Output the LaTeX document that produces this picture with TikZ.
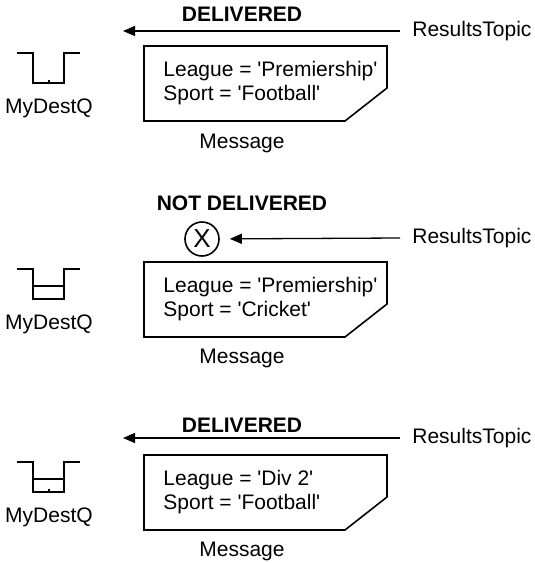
\documentclass[tikz,border=0pt]{standalone}
\usepackage{fontspec}
\setmainfont{Liberation Sans}
\usetikzlibrary{arrows.meta}

\begin{document}
\begin{tikzpicture}[x=0.5pt,y=-0.5pt,
  every node/.style={font=\fontsize{10.5}{12}\selectfont},
  status/.style={font=\fontsize{10.5}{12}\selectfont\bfseries},
  topic/.style={anchor=west,inner xsep=6pt,inner ysep=0pt},
  msgtext/.style={anchor=west,align=left,inner sep=0pt},
  feed/.style={line width=0.65pt,-{Triangle[length=6pt,width=5pt]}},
  outline/.style={line width=0.8pt,line join=miter}]
  \useasboundingbox (0,0) rectangle (535,563);

  % first message: delivered
  \node[status] (lbl1) at (242,14) {DELIVERED};
  \node[topic] (topic1) at (400,31) {ResultsTopic};
  \coordinate (end1) at (123,31);
  \draw[feed] (topic1.west) -- (end1);
  \draw[outline] (144,46) -- (387,46) -- (387,88) -- (345,121) -- (144,121) -- cycle;
  \node[msgtext] (msg1) at (163,83) {League = \textquotesingle Premiership\textquotesingle\\Sport = \textquotesingle Football\textquotesingle};
  \node (cap1) at (242,143) {Message};
  \draw[outline] (17,53) -- (33,53) -- (33,83) -- (64,83) -- (64,53) -- (80,53);
  \draw[outline] (49,83) -- (49,80);
  \node (q1) at (49,108) {MyDestQ};

  % second message: not delivered
  \node[status] (lbl2) at (242,203) {NOT DELIVERED};
  \node[topic] (topic2) at (400,238) {ResultsTopic};
  \node[circle,draw,line width=0.8pt,minimum size=17pt,inner sep=0pt,
    font=\fontsize{13}{13}\selectfont] (stop) at (202,239) {X};
  \draw[feed,shorten >=5pt] (topic2.west) -- (stop);
  \draw[outline] (144,262) -- (387,262) -- (387,304) -- (345,337) -- (144,337) -- cycle;
  \node[msgtext] (msg2) at (163,299.5) {League = \textquotesingle Premiership\textquotesingle\\Sport = \textquotesingle Cricket\textquotesingle};
  \node (cap2) at (242,358) {Message};
  \draw[outline] (17,269) -- (33,269) -- (33,299) -- (64,299) -- (64,269) -- (80,269);
  \draw[outline] (33,286) -- (64,286);
  \node (q2) at (49,324) {MyDestQ};

  % third message: delivered
  \node[status] (lbl3) at (242,425) {DELIVERED};
  \node[topic] (topic3) at (400,438) {ResultsTopic};
  \coordinate (end3) at (123,438);
  \draw[feed] (topic3.west) -- (end3);
  \draw[outline] (144,455) -- (387,455) -- (387,497) -- (345,530) -- (144,530) -- cycle;
  \node[msgtext] (msg3) at (163,492.5) {League = \textquotesingle Div 2\textquotesingle\\Sport = \textquotesingle Football\textquotesingle};
  \node (cap3) at (242,551) {Message};
  \draw[outline] (17,462) -- (33,462) -- (33,492) -- (64,492) -- (64,462) -- (80,462);
  \draw[outline] (33,479) -- (64,479);
  \draw[outline] (49,492) -- (49,489);
  \node (q3) at (49,517) {MyDestQ};
\end{tikzpicture}
\end{document}
